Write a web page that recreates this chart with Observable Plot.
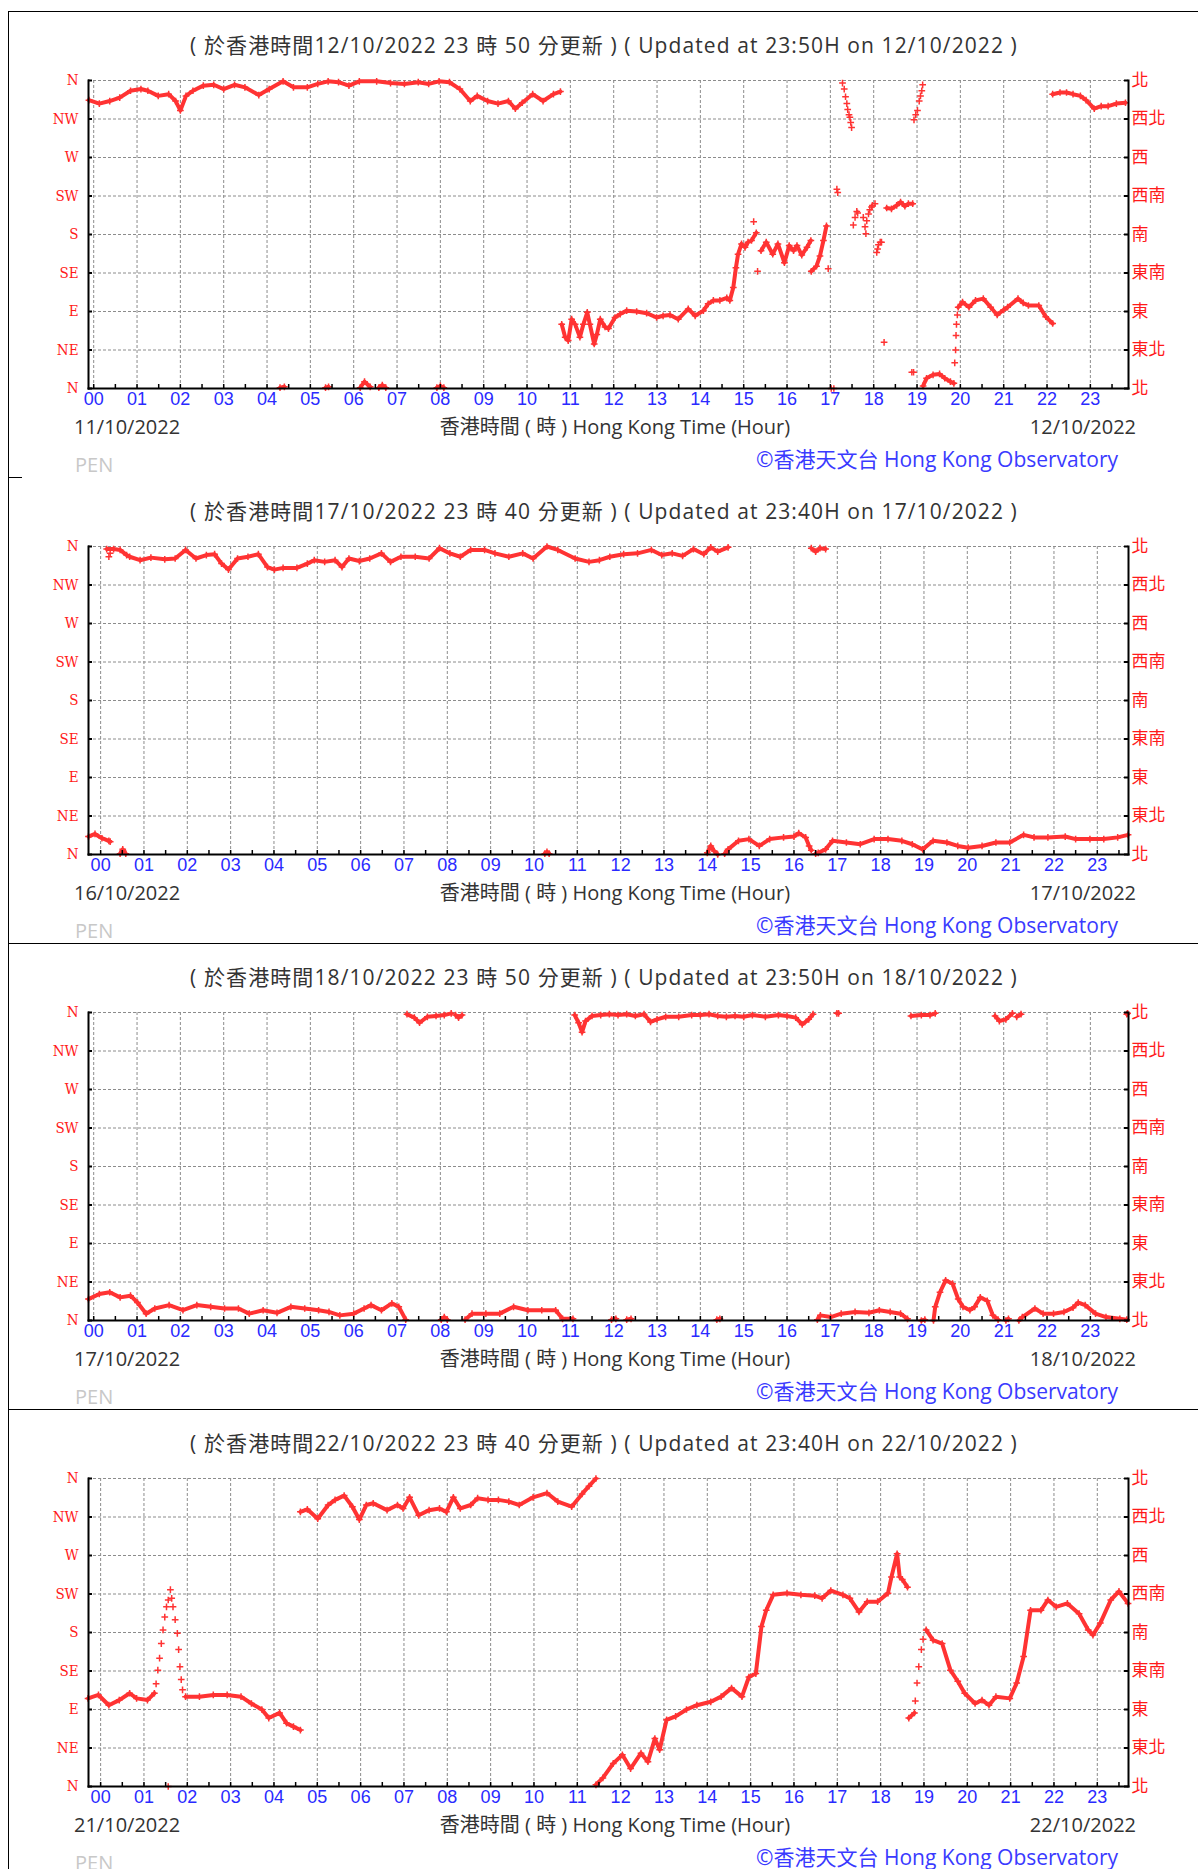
<!DOCTYPE html>
<html><head><meta charset="utf-8">
<script src="https://cdn.jsdelivr.net/npm/d3@7"></script>
<script src="https://cdn.jsdelivr.net/npm/@observablehq/plot@0.6"></script>
<style>
body{margin:0;background:#fff;}
#root{position:relative;width:1198px;height:1869px;overflow:hidden;font-family:"Open Sans","Noto Sans CJK TC",sans-serif;}
.abs{position:absolute;white-space:nowrap;line-height:24px;}
.title{left:0;width:1208px;text-align:center;font-size:21px;color:#333;letter-spacing:1.1px;}
.date{font-size:20px;color:#333;}
.pen{font-size:20px;color:#c8c8c8;}
.credit{font-size:21px;color:#3a3aff;}
.hl{position:absolute;background:#000;height:1px;}
.vl{position:absolute;background:#000;width:1px;}
.plotbox{position:absolute;left:0;}
</style></head>
<body><div id="root"></div>
<script>
// ---------- labels ----------
const hours = d3.range(0, 24);
const halfHours = d3.range(0, 48).map(i => i / 2);
const levels = [0, 45, 90, 135, 180, 225, 270, 315, 360];
const leftLabels = ["N", "NE", "E", "SE", "S", "SW", "W", "NW", "N"];
const rightLabels = ["北", "東北", "東", "東南", "南", "西南", "西", "西北", "北"];
const updateDates = ["12/10/2022", "17/10/2022", "18/10/2022", "22/10/2022"];
const updateTimes = ["23:50", "23:40", "23:50", "23:40"];
const updateMinutes = ["50", "40", "50", "40"];
const startDates = ["11/10/2022", "16/10/2022", "17/10/2022", "21/10/2022"];
const xDomains = [[-0.12, 23.88], [-0.28, 23.72], [-0.12, 23.88], [-0.28, 23.72]];

// ---------- data: [hour, degrees]; null breaks a trace ----------
const p1Trace = [
[-0.11,337],[0.13,333],[0.37,336],[0.6,340],[0.85,348],[1.09,350],[1.25,348],[1.49,342],[1.73,344],[1.89,336],[2.0,325],[2.13,342],[2.29,348],[2.53,354],[2.77,355],[3.0,350],[3.25,355],[3.49,352],[3.81,343],[4.05,350],[4.37,359],[4.61,352],[4.93,352],[5.17,356],[5.41,359],[5.65,358],[5.89,354],[6.13,359],[6.53,359],[6.85,357],[7.17,356],[7.49,358],[7.73,356],[7.97,359],[8.21,358],[8.45,350],[8.69,336],[8.85,342],[9.09,336],[9.33,333],[9.57,336],[9.73,327],[9.89,334],[10.13,344],[10.37,336],[10.61,344],[10.77,347],null,
[4.3,1],[4.4,2],null,[5.35,1],[5.42,2],null,[6.15,1],[6.25,8],[6.38,2],null,[6.58,1],[6.66,4],[6.74,1],null,[7.92,1],[8.0,3],[8.08,1],null,
[10.8,75],[10.88,60],[10.95,56],[11.03,81],[11.11,75],[11.22,60],[11.3,75],[11.39,89],[11.45,75],[11.55,52],[11.61,63],[11.69,81],[11.8,72],[11.88,70],[12.03,83],[12.15,87],[12.3,91],[12.53,90],[12.76,88],[12.99,83],[13.14,85],[13.3,86],[13.49,81],[13.72,93],[13.88,85],[14.07,91],[14.18,99],[14.3,103],[14.45,103],[14.61,106],[14.68,103],[14.76,118],[14.82,141],[14.87,157],[14.95,169],[15.03,165],[15.1,171],[15.18,173],[15.29,182],null,
[15.4,161],[15.52,171],[15.67,157],[15.79,169],[15.94,147],[16.05,167],[16.15,161],[16.23,167],[16.34,156],[16.46,165],[16.55,173],null,
[16.56,137],[16.68,143],[16.76,155],[16.84,173],[16.91,190],null,
[18.3,211],[18.41,210],[18.53,214],[18.62,218],[18.72,213],[18.8,216],[18.9,216],null,
[19.14,3],[19.22,12],[19.37,16],[19.52,17],[19.64,12],[19.77,8],[19.85,6],null,
[19.95,95],[20.05,101],[20.2,95],[20.35,103],[20.53,105],[20.7,95],[20.85,86],[21.0,92],[21.09,95],[21.33,105],[21.45,100],[21.57,97],[21.81,97],[21.97,84],[22.13,76],null,
[22.13,344],[22.3,346],[22.45,346],[22.6,344],[22.77,342],[22.9,337],[23.09,327],[23.25,330],[23.41,330],[23.6,333],[23.81,334]
];
const p1Scatter = [
[15.23,195],[15.32,137],[16.95,140],[17.02,0],[17.08,0],[17.15,233],[17.17,229],[17.28,357],[17.32,350],[17.35,341],[17.38,333],[17.4,326],[17.43,320],[17.45,317],[17.47,311],[17.49,305],
[17.53,191],[17.57,200],[17.61,207],[17.63,205],[17.76,200],[17.8,189],[17.82,181],[17.84,196],[17.88,204],[17.91,209],[17.95,212],[17.97,214],[18.03,216],[18.07,159],[18.09,163],[18.11,168],[18.15,171],[18.18,171],[18.24,54],
[18.88,19],[18.92,19],[18.93,314],[18.97,320],[19.01,325],[19.05,336],[19.08,342],[19.11,348],[19.13,355],
[19.87,30],[19.89,45],[19.9,62],[19.91,75],[19.93,86]
];

const p2Trace = [
[0.14,357],[0.3,357],[0.45,356],[0.6,350],[0.67,348],[0.91,344],[1.16,347],[1.48,345],[1.72,346],[1.96,356],[2.2,346],[2.44,350],[2.63,351],[2.79,340],[2.95,333],[3.16,346],[3.4,348],[3.64,351],[3.85,336],[4.01,333],[4.21,335],[4.53,335],[4.77,340],[4.93,344],[5.17,342],[5.41,344],[5.57,336],[5.73,346],[5.97,343],[6.21,346],[6.48,352],[6.69,342],[6.93,348],[7.26,348],[7.58,346],[7.82,358],[8.06,352],[8.3,348],[8.54,356],[8.86,356],[9.1,352],[9.42,348],[9.74,352],[9.98,346],[10.3,360],[10.55,356],[10.95,346],[11.27,342],[11.51,344],[11.75,348],[12.07,351],[12.39,352],[12.71,356],[12.95,350],[13.19,352],[13.43,349],[13.68,357],[13.92,351],[14.08,359],[14.24,354],[14.48,359],null,
[16.4,358],[16.5,354],[16.6,358],[16.73,357],null,
[-0.28,21],[-0.13,24],[0.03,19],[0.19,16],[0.22,15],null,[0.45,1],[0.51,6],[0.58,1],null,[10.25,1],[10.3,3],[10.35,1],null,
[14.0,2],[14.08,10],[14.16,4],[14.24,0],null,
[14.4,1],[14.48,6],[14.72,16],[14.96,18],[15.2,10],[15.44,18],[15.76,20],[16.0,21],[16.11,25],[16.27,20],[16.35,10],[16.4,5],null,
[16.5,1],[16.56,2],[16.73,6],[16.89,16],[17.21,14],[17.53,12],[17.85,18],[18.17,18],[18.49,16],[18.73,12],[18.97,6],[19.21,16],[19.53,14],[19.78,10],[20.02,8],[20.34,10],[20.66,14],[20.98,14],[21.3,23],[21.54,20],[21.86,20],[22.26,21],[22.5,18],[22.83,18],[23.15,18],[23.47,20],[23.71,23]
];
const p2Scatter = [[0.19,348],[0.22,352]];

const p3Trace = [
[-0.12,25],[0.13,31],[0.37,33],[0.61,27],[0.85,29],[1.01,21],[1.21,8],[1.41,14],[1.74,18],[2.06,12],[2.38,18],[2.7,16],[3.02,14],[3.34,14],[3.59,8],[3.91,12],[4.23,9],[4.55,16],[4.87,14],[5.19,12],[5.43,10],[5.68,6],[6.0,8],[6.24,14],[6.4,18],[6.64,12],[6.88,20],[7.04,16],[7.2,1],null,
[8.02,1],[8.09,4],[8.16,1],null,
[8.57,1],[8.73,8],[9.05,8],[9.37,8],[9.69,16],[10.02,12],[10.34,12],[10.66,12],[10.82,2],[11.06,2],null,
[11.95,1],[12.05,2],null,[12.3,1],[12.4,2],null,[14.38,1],[14.45,2],null,
[16.7,1],[16.77,6],[17.01,4],[17.25,8],[17.57,10],[17.89,9],[18.13,12],[18.38,10],[18.62,8],[18.78,2],null,
[19.1,0],[19.18,1],null,
[19.38,0],[19.42,16],[19.53,33],[19.66,47],[19.82,43],[19.95,25],[20.06,16],[20.22,12],[20.33,16],[20.46,27],[20.62,23],[20.75,6],[20.87,1],null,
[21.05,0],[21.11,2],null,
[21.35,0],[21.43,4],[21.72,14],[21.91,8],[22.15,8],[22.39,10],[22.6,15],[22.72,21],[22.88,18],[23.12,8],[23.36,4],[23.68,2],[23.84,1],null,
[7.23,358],[7.4,354],[7.52,348],[7.7,355],[7.9,356],[8.09,357],[8.25,359],null,
[8.35,357],[8.42,354],[8.5,357],null,
[11.1,357],[11.19,348],[11.27,337],[11.35,350],[11.5,356],[11.7,357],[11.9,358],[12.1,357],[12.3,358],[12.5,356],[12.7,358],[12.85,349],[13.0,352],[13.2,355],[13.5,355],[13.8,357],[14.0,357],[14.2,358],[14.4,356],[14.6,355],[14.8,356],[15.0,355],[15.2,357],[15.5,355],[15.8,357],[16.0,356],[16.2,354],[16.35,346],[16.5,352],[16.6,358],null,
[17.15,359],[17.19,359],null,
[18.86,356],[19.1,357],[19.3,357],[19.42,359],null,
[20.8,356],[20.9,350],[21.05,352],[21.2,359],null,
[21.3,355],[21.4,358],null,
[23.84,358],[23.86,359]
];
const p3Scatter = [];

const p4Trace = [
[-0.29,103],[-0.05,107],[0.19,95],[0.43,101],[0.67,109],[0.83,103],[1.08,101],[1.24,109],null,
[1.96,105],[2.28,105],[2.6,107],[2.92,107],[3.24,105],[3.48,97],[3.72,90],[3.88,80],[4.13,86],[4.29,74],[4.45,70],[4.61,66],null,
[4.61,321],[4.77,324],[5.01,313],[5.25,329],[5.41,335],[5.62,340],[5.81,327],[5.97,312],[6.13,329],[6.29,331],[6.61,323],[6.85,329],[6.98,325],[7.13,338],[7.34,317],[7.58,323],[7.82,325],[7.98,321],[8.14,338],[8.3,325],[8.54,329],[8.7,337],[8.94,335],[9.18,335],[9.42,333],[9.66,329],[9.98,338],[10.3,343],[10.55,333],[10.87,327],[11.11,342],[11.27,351],[11.43,360],null,
[11.43,2],[11.59,10],[11.83,27],[12.04,37],[12.23,21],[12.47,39],[12.63,29],[12.79,56],[12.9,43],[13.06,78],[13.27,82],[13.52,90],[13.76,95],[14.08,99],[14.32,105],[14.56,115],[14.8,105],[14.96,128],[15.12,132],[15.25,187],[15.36,206],[15.52,224],[15.84,226],[16.16,224],[16.48,223],[16.65,220],[16.85,229],[17.13,224],[17.29,220],[17.5,204],[17.69,216],[17.93,216],[18.17,226],[18.25,245],[18.38,272],[18.44,245],[18.5,242],[18.62,233],null,
[18.65,80],[18.78,86],null,
[19.05,183],[19.21,171],[19.42,167],[19.61,136],[19.78,123],[19.94,109],[20.18,97],[20.34,101],[20.5,95],[20.66,105],[20.98,103],[21.14,121],[21.3,152],[21.46,206],[21.7,206],[21.86,218],[22.05,210],[22.31,214],[22.58,202],[22.79,183],[22.9,177],[23.07,191],[23.31,218],[23.5,228],[23.71,214]
];
const p4Scatter = [
[1.28,120],[1.32,136],[1.36,150],[1.4,167],[1.44,183],[1.48,198],[1.52,210],[1.56,218],[1.61,230],[1.64,220],[1.67,210],[1.72,195],[1.77,179],[1.8,160],[1.83,140],[1.86,125],[1.89,113],[1.56,0],
[18.8,100],[18.84,121],[18.88,140],[18.94,160],[18.98,172]
];

const traces = [p1Trace, p2Trace, p3Trace, p4Trace];
const scatters = [p1Scatter, p2Scatter, p3Scatter, p4Scatter];

// ---------- drawing ----------
const RED = "#ff3333";
const BLUE = "#2a2aff";
const GRID = "#8c8c8c";
const PANEL = 466;
const root = document.getElementById("root");

function addDiv(cls, style, text) {
  const d = document.createElement("div");
  d.className = cls;
  Object.assign(d.style, style);
  if (text != null) d.textContent = text;
  root.appendChild(d);
  return d;
}

// outer borders
addDiv("vl", {left: "8px", top: "11px", height: "1858px"});
addDiv("hl", {left: "8px", top: "11px", width: "1190px"});
addDiv("hl", {left: "8px", top: "477px", width: "14px"});
addDiv("hl", {left: "8px", top: "943px", width: "1190px"});
addDiv("hl", {left: "8px", top: "1409px", width: "1190px"});

const W = 1198, H = 420, ML = 88, MR = 70, MT = 80, MB = 32;
const innerW = W - ML - MR, innerH = H - MT - MB;

for (let i = 0; i < 4; i++) {
  const T = PANEL * i;
  const rows = traces[i].map(p => p ? {h: p[0], d: p[1]} : {h: NaN, d: NaN});
  const pts = traces[i].filter(p => p).concat(scatters[i]).map(p => ({h: p[0], d: p[1]}));

  const plot = Plot.plot({
    width: W, height: H,
    marginTop: MT, marginBottom: MB, marginLeft: ML, marginRight: MR,
    x: {domain: xDomains[i], axis: null},
    y: {domain: [0, 360], axis: null},
    style: {background: "transparent", overflow: "visible"},
    marks: [
      Plot.gridX(hours, {stroke: GRID, strokeOpacity: 1, strokeDasharray: "3,2"}),
      Plot.gridY(levels, {stroke: GRID, strokeOpacity: 1, strokeDasharray: "3,2"}),
      Plot.line(rows, {x: "h", y: "d", stroke: RED, strokeWidth: 4}),
      Plot.dot(pts, {x: "h", y: "d", symbol: "plus", r: 2.3, stroke: RED, strokeWidth: 1.5}),
      Plot.tickX(halfHours, {x: d => d, stroke: "#000", strokeWidth: 1.5, insetTop: innerH - 4}),
      Plot.tickY(levels, {y: d => d, stroke: "#000", strokeWidth: 2, insetRight: innerW - 4}),
      Plot.tickY(levels, {y: d => d, stroke: "#000", strokeWidth: 2, insetLeft: innerW - 4}),
      Plot.frame({anchor: "left", stroke: "#000", strokeWidth: 2}),
      Plot.frame({anchor: "right", stroke: "#000", strokeWidth: 2}),
      Plot.frame({anchor: "bottom", stroke: "#000", strokeWidth: 2}),
      Plot.axisX(hours, {anchor: "bottom", tickSize: 0, tickPadding: 4, label: null,
        tickFormat: d => String(d).padStart(2, "0"), fill: BLUE,
        fontSize: 18, fontFamily: "Liberation Sans"}),
      Plot.axisY(levels, {anchor: "left", tickSize: 0, tickPadding: 10, label: null,
        tickFormat: d => leftLabels[levels.indexOf(d)], fill: "#ff1a1a",
        fontSize: 15, fontFamily: "DejaVu Serif Condensed"}),
      Plot.axisY(levels, {anchor: "right", tickSize: 0, tickPadding: 3, label: null,
        tickFormat: d => rightLabels[levels.indexOf(d)], fill: "#ff1a1a",
        fontSize: 17, fontFamily: "Noto Sans CJK TC"})
    ]
  });
  const box = addDiv("plotbox", {top: T + "px"});
  box.appendChild(plot);

  addDiv("abs title", {top: (T + 33) + "px"},
    `( 於香港時間${updateDates[i]} 23 時 ${updateMinutes[i]} 分更新 ) ( Updated at ${updateTimes[i]}H on ${updateDates[i]} )`);
  addDiv("abs date", {left: "74px", top: (T + 415) + "px"}, startDates[i]);
  addDiv("abs date", {left: "615px", top: (T + 415) + "px", transform: "translateX(-50%)"},
    "香港時間 ( 時 ) Hong Kong Time (Hour)");
  addDiv("abs date", {right: "62px", top: (T + 415) + "px"}, updateDates[i]);
  addDiv("abs pen", {left: "75px", top: (T + 453) + "px"}, "PEN");
  addDiv("abs credit", {right: "80px", top: (T + 447) + "px"}, "©香港天文台 Hong Kong Observatory");
}
</script>
</body></html>
